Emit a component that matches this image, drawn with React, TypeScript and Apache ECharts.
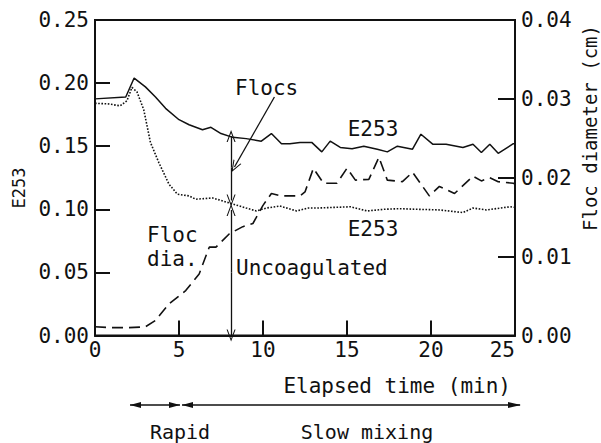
import React, { useEffect, useRef } from "react";
import * as echarts from "echarts";

// Total E253 (solid)
const solidT = [0, 1.83, 2.33, 3.0, 3.6, 4.2, 5.0, 5.6, 6.4, 6.9, 7.5, 8.2, 9.0, 9.9, 10.5, 11.1, 11.6, 12.2, 12.9, 13.5, 14.0, 14.6, 15.3, 16.0, 16.8, 17.4, 18.0, 18.9, 19.4, 20.1, 20.9, 21.9, 22.5, 23.0, 23.5, 24.0, 24.9, 25];
const solidV = [0.1875, 0.189, 0.204, 0.197, 0.189, 0.18, 0.171, 0.167, 0.163, 0.165, 0.16, 0.157, 0.156, 0.154, 0.16, 0.152, 0.152, 0.153, 0.153, 0.1455, 0.154, 0.149, 0.148, 0.15, 0.1476, 0.1455, 0.15, 0.1476, 0.1595, 0.1516, 0.1516, 0.149, 0.1516, 0.145, 0.1516, 0.1444, 0.152, 0.152];

// Uncoagulated E253 (dotted)
const dotT = [0, 0.8, 1.5, 1.9, 2.2, 2.5, 2.9, 3.3, 3.8, 4.4, 4.9, 5.6, 6.0, 7.0, 8.0, 9.0, 9.6, 10.2, 11.0, 12.0, 12.7, 13.2, 14.2, 15.2, 16.2, 17.2, 18.1, 19.2, 20.5, 21.9, 22.5, 23.3, 24.7, 25];
const dotV = [0.184, 0.1835, 0.182, 0.186, 0.1966, 0.193, 0.179, 0.153, 0.137, 0.12, 0.112, 0.1106, 0.108, 0.109, 0.105, 0.101, 0.0987, 0.101, 0.1026, 0.0987, 0.101, 0.101, 0.1015, 0.102, 0.0987, 0.1, 0.1005, 0.1, 0.0995, 0.0974, 0.101, 0.0995, 0.102, 0.1015];

// Floc diameter, cm (dashed, right axis)
const dashT = [0, 1, 2, 3.0, 3.6, 4.4, 5.4, 6.2, 6.8, 7.2, 8.0, 8.8, 9.4, 10.0, 10.5, 11.1, 12.2, 12.5, 13.0, 13.6, 14.4, 15.0, 15.5, 16.3, 16.9, 17.4, 18.3, 18.9, 19.9, 20.5, 21.4, 22.5, 23.0, 23.5, 24.0, 24.9, 25];
const dashV = [0.0011, 0.001, 0.001, 0.0011, 0.0019, 0.004, 0.0057, 0.0078, 0.0112, 0.0112, 0.0129, 0.0138, 0.0142, 0.0165, 0.018, 0.0177, 0.0177, 0.0182, 0.0212, 0.0193, 0.0193, 0.0212, 0.0197, 0.0198, 0.0226, 0.0197, 0.0195, 0.0207, 0.0177, 0.0189, 0.018, 0.0202, 0.0196, 0.02, 0.0195, 0.0193, 0.0192];

const FONT = "DejaVu Sans Mono";
const INK = "#111";
const CHEVRON = "path://M5,0 L10,12 L8.8,12 L5,2.8 L1.2,12 L0,12 Z";

const pairs = (t: number[], v: number[]) => t.map((x, i) => [x, v[i]]);

export default function App() {
  const ref = useRef<HTMLDivElement>(null);
  useEffect(() => {
    if (!ref.current) return;
    const chart = echarts.init(ref.current, undefined, { renderer: "svg" });
    const txt = (text: string, x: number, y: number, align = "left", size = 21, rotation = 0) => ({
      type: "text",
      x,
      y,
      rotation,
      style: { text, fontFamily: FONT, fontSize: size, fill: INK, align, verticalAlign: "middle" },
    });
    chart.setOption({
      animation: false,
      backgroundColor: "#fff",
      grid: { left: 95, right: 86, top: 20, bottom: 107.5, show: true, borderColor: INK, borderWidth: 2, backgroundColor: "transparent" },
      xAxis: {
        type: "value",
        min: 0,
        max: 25,
        interval: 5,
        axisLine: { lineStyle: { color: INK, width: 2 } },
        axisTick: { inside: true, length: 15, lineStyle: { color: INK, width: 2 } },
        axisLabel: { color: INK, fontFamily: FONT, fontSize: 21, margin: 4, alignMaxLabel: "right" },
        splitLine: { show: false },
      },
      yAxis: [
        {
          type: "value",
          min: 0,
          max: 0.25,
          interval: 0.05,
          axisLine: { show: true, lineStyle: { color: INK, width: 2 } },
          axisTick: { show: true, inside: true, length: 15, lineStyle: { color: INK, width: 2 } },
          axisLabel: { color: INK, fontFamily: FONT, fontSize: 21, margin: 6, padding: [4, 0, 0, 0], formatter: (v: number) => v.toFixed(2) },
          splitLine: { show: false },
        },
        {
          type: "value",
          min: 0,
          max: 0.04,
          interval: 0.01,
          position: "right",
          axisLine: { show: true, lineStyle: { color: INK, width: 2 } },
          axisTick: { show: true, inside: true, length: 17, lineStyle: { color: INK, width: 2 } },
          axisLabel: { color: INK, fontFamily: FONT, fontSize: 21, margin: 6, padding: [2, 0, 0, 0], formatter: (v: number) => v.toFixed(2) },
          splitLine: { show: false },
        },
      ],
      series: [
        {
          name: "E253 (total)",
          type: "line",
          yAxisIndex: 0,
          data: pairs(solidT, solidV),
          showSymbol: false,
          lineStyle: { color: INK, width: 1.5 },
          markLine: {
            silent: true,
            symbol: ["none", CHEVRON],
            symbolSize: [9, 12],
            label: { show: false },
            lineStyle: { color: INK, width: 1.3, type: "solid" },
            data: [
              [{ coord: [10.68, 0.189] }, { coord: [8.3, 0.1335] }],
              [{ coord: [8.1, 0.133] }, { coord: [8.1, 0.158] }],
              [{ coord: [8.1, 0.133] }, { coord: [8.1, 0.107] }],
              [{ coord: [8.1, 0.05] }, { coord: [8.1, 0.0995] }],
              [{ coord: [8.1, 0.05] }, { coord: [8.1, 0.0] }],
            ],
          },
        },
        {
          name: "E253 (uncoagulated)",
          type: "line",
          yAxisIndex: 0,
          data: pairs(dotT, dotV),
          showSymbol: false,
          lineStyle: { color: INK, width: 1.6, type: [1.6, 1.6] },
        },
        {
          name: "Floc diameter",
          type: "line",
          yAxisIndex: 1,
          data: pairs(dashT, dashV),
          showSymbol: false,
          lineStyle: { color: INK, width: 1.6, type: [11, 6] },
        },
      ],
      graphic: [
        txt("Flocs", 235, 88),
        txt("E253", 373, 129, "center"),
        txt("E253", 373, 229, "center"),
        txt("Floc", 147, 235),
        txt("dia.", 147, 259),
        txt("Uncoagulated", 236, 268),
        txt("Elapsed time (min)", 511, 386, "right"),
        txt("E253", 19, 188, "center", 17, Math.PI / 2),
        txt("Floc diameter (cm)", 590, 128, "center", 19, Math.PI / 2),
        txt("Rapid", 180, 432, "center", 20),
        txt("Slow mixing", 367, 432, "center", 20),
        { type: "line", shape: { x1: 130, y1: 405, x2: 180, y2: 405 }, style: { stroke: INK, lineWidth: 1.5 } },
        { type: "line", shape: { x1: 182, y1: 405, x2: 520, y2: 405 }, style: { stroke: INK, lineWidth: 1.5 } },
        { type: "polygon", shape: { points: [[130, 405], [141, 402], [141, 408]] }, style: { fill: INK } },
        { type: "polygon", shape: { points: [[180, 405], [169, 402], [169, 408]] }, style: { fill: INK } },
        { type: "polygon", shape: { points: [[182, 405], [193, 402], [193, 408]] }, style: { fill: INK } },
        { type: "polygon", shape: { points: [[521, 405], [508, 402], [508, 408]] }, style: { fill: INK } },
      ],
    });
    return () => chart.dispose();
  }, []);
  return <div ref={ref} style={{ position: "fixed", left: 0, top: 0, width: 601, height: 443, background: "#fff" }} />;
}
